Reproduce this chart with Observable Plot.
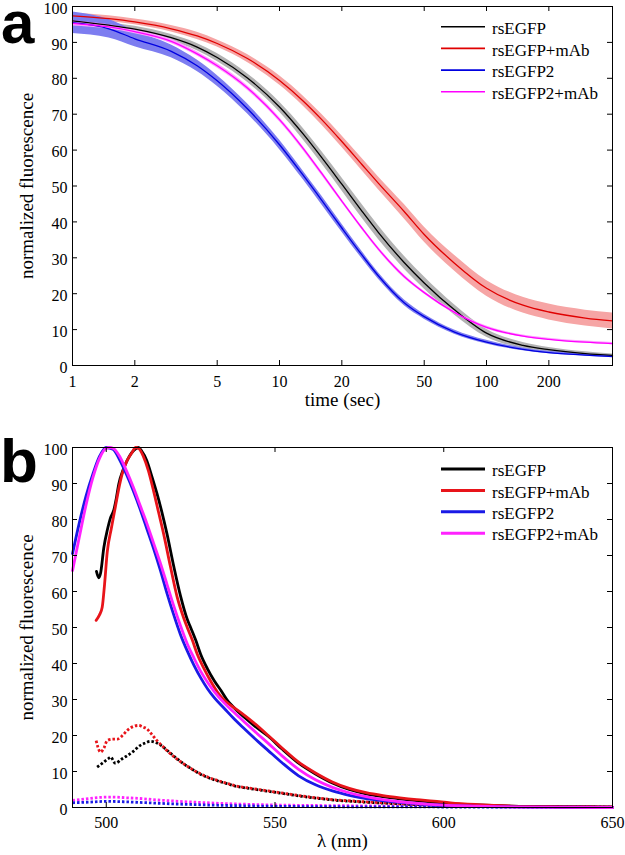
<!DOCTYPE html>
<html><head><meta charset="utf-8">
<script src="https://cdn.jsdelivr.net/npm/d3@7"></script>
<script src="https://cdn.jsdelivr.net/npm/@observablehq/plot@0.6"></script>
<style>
body{margin:0;background:#fff;}
#root{position:relative;width:625px;height:855px;overflow:hidden;background:#fff;}
#root > svg, #root > figure{position:absolute;left:0;margin:0;}
</style></head><body><div id="root"></div>
<script>
// ---------- DATA ----------
const seriesNames = ["rsEGFP", "rsEGFP+mAb", "rsEGFP2", "rsEGFP2+mAb"];

// panel a: switching-off kinetics (time in s, normalized fluorescence, mean and half-width of band)
const time = [1, 1.5, 2, 3, 4, 5, 7, 10, 13, 16, 20, 25, 30, 40, 50, 70, 100, 150, 200, 300, 406];
const rsEGFP_mean     = [96, 94.8, 93.7, 91.3, 88.7, 85.8, 80.1, 72, 64.5, 57.9, 50.5, 43, 37.1, 28.7, 23, 15.5, 9, 5.6, 4.4, 3.3, 2.8];
const rsEGFP_err      = [0.6, 0.7, 0.8, 0.9, 1, 1.1, 1.2, 1.4, 1.6, 1.7, 1.8, 1.9, 1.9, 1.8, 1.7, 1.4, 1.1, 0.8, 0.6, 0.5, 0.4];
const rsEGFPmAb_mean  = [97.4, 96.6, 95.7, 93.8, 91.8, 89.7, 85.5, 79.4, 73.7, 68.5, 62.4, 56, 50.8, 42.9, 36.5, 28.5, 21.5, 16.8, 14.9, 13.2, 12.4];
const rsEGFPmAb_err   = [0.8, 0.8, 0.8, 0.9, 1, 1, 1.1, 1.3, 1.4, 1.5, 1.6, 1.7, 1.8, 2, 2.1, 2.2, 2.2, 2.2, 2.2, 2.2, 2.2];
const rsEGFP2_mean    = [95.5, 93.8, 91, 87.5, 83.5, 79.3, 71.5, 61.5, 53, 46, 38.3, 30.8, 25, 17.5, 13.6, 9.3, 6.5, 4.5, 3.6, 2.9, 2.5];
const rsEGFP2_err     = [3, 2.6, 2.2, 1.8, 1.6, 1.5, 1.4, 1.3, 1.2, 1.2, 1.1, 1, 0.9, 0.8, 0.7, 0.6, 0.5, 0.4, 0.35, 0.3, 0.3];
const rsEGFP2mAb_mean = [95.3, 94.3, 93, 90.3, 86.8, 83.5, 77.3, 68.5, 60.5, 53.5, 45.8, 38.3, 32.5, 24.8, 20.3, 14.8, 10.6, 8.2, 7.3, 6.5, 6.1];
const rsEGFP2mAb_err  = [0.7, 0.6, 0.6, 0.6, 0.6, 0.6, 0.6, 0.6, 0.6, 0.6, 0.5, 0.5, 0.5, 0.5, 0.4, 0.4, 0.4, 0.3, 0.3, 0.3, 0.3];
const xTicksA = [1, 2, 5, 10, 20, 50, 100, 200];
const yTicksA = [0, 10, 20, 30, 40, 50, 60, 70, 80, 90, 100];

// panel b: emission spectra [wavelength nm, normalized fluorescence]; solid = on-state, dotted = off-state
const rsEGFP_on = [[497.1,65.6],[497.8,63.8],[498.3,65],[499.3,72.3],[500.3,77],[501.3,80.6],[502.2,82.5],[503,86],[503.7,89.8],[505,93.8],[506.2,96.4],[507.5,98.5],[508.7,99.6],[509.5,100],[510.5,99],[512,96.4],[513.5,92],[515,87.3],[516.5,82],[518,76],[520,67],[522,58.8],[524,52.3],[525,50],[526.5,46.5],[528,42.5],[530,38.5],[532,35.2],[534,32.5],[536,29.6],[538,27.6],[541,25],[544,22.6],[548,19.8],[552,16.3],[557,12.3],[562,9.3],[567,6.8],[572,5],[577,3.8],[582,3],[587,2.4],[592,1.9],[597,1.5],[602,1.1],[610,0.7],[620,0.4],[635,0.2],[650,0.1]];
const rsEGFPmAb_on = [[497,52],[498,53.5],[498.8,55.6],[499.5,62],[500.3,71],[501.5,77.5],[502.7,83.5],[503.7,88.5],[504.7,92.6],[506,96],[507.7,98.7],[508.7,100],[509.7,99.7],[511,97.5],[512.5,93.5],[514,88],[515.5,82],[517,76],[519,67],[521,58.5],[523,52.5],[524,50],[525.5,46.5],[527,42.5],[529,38.5],[531,35],[533,32],[535,29.8],[537,28.3],[540,26.3],[544,23.3],[548,20],[552,16.6],[557,12.6],[562,9.6],[567,7.1],[572,5.3],[577,4.1],[582,3.3],[587,2.7],[592,2.2],[597,1.8],[602,1.3],[610,0.8],[620,0.4],[635,0.2],[650,0.1]];
const rsEGFP2_on = [[490,70.5],[492,79],[494,86.5],[496,92.5],[498,97.5],[500,100],[502,99.5],[504,96.5],[506,92.5],[508,88],[510,83],[512,77.5],[514,72],[516,66],[518,59.5],[520,53.5],[522,48],[524,43.5],[526,39.5],[528,36],[530,33],[532,30.5],[535,27.5],[538,24.5],[541,21.8],[545,18.3],[548,15.8],[552,12.5],[557,8.8],[562,6.3],[567,4.6],[572,3.4],[577,2.5],[582,1.9],[587,1.4],[597,0.7],[610,0.3],[625,0.1],[650,0]];
const rsEGFP2mAb_on = [[490,65.8],[492,75],[494,84],[496,91.5],[498,97],[500,99.8],[501,100],[502,99.8],[504,97.5],[506,93.5],[508,89],[510,84],[512,79],[514,73.5],[516,68],[518,62],[520,56],[522,50.5],[524,45.5],[526,41.5],[528,37.8],[530,34.8],[532,32.2],[535,29],[538,26.3],[541,23.7],[545,20.3],[548,17.8],[552,14.4],[557,10.6],[562,7.7],[567,5.6],[572,4.1],[577,3],[582,2.2],[587,1.6],[597,0.8],[610,0.4],[625,0.1],[650,0]];
const rsEGFP_off = [[497.3,11.2],[499,12.4],[500.5,13.5],[501.3,14],[502.7,12.3],[504.5,13.4],[506.2,14.4],[508,15.6],[510,17.2],[511.5,17.9],[513.1,18.4],[514.5,18.1],[516,17.4],[518,15.9],[520.5,13.9],[523,12.1],[525.5,10.6],[528,9.2],[530.5,8.2],[533,7.4],[535.5,6.7],[538,6],[543,5.2],[548,4.5],[553,3.8],[558,3.1],[563,2.5],[568,2],[573,1.7],[578,1.4],[585,1.1],[592,0.8],[600,0.6],[610,0.4],[620,0.3],[635,0.2],[650,0.1]];
const rsEGFPmAb_off = [[497,18.6],[498.3,15.4],[499.3,16.5],[500.3,18.6],[502,19],[503.2,19],[505,20.2],[506.2,21.4],[508,22.5],[509.6,22.8],[511,22.3],[512,21.9],[513.5,20.3],[515,18.6],[516.5,17.2],[518,15.8],[520.5,13.8],[523,12.1],[525.5,10.6],[528,9.3],[530.5,8.3],[533,7.5],[535.5,6.8],[538,6.1],[543,5.3],[548,4.6],[553,3.9],[558,3.2],[563,2.6],[568,2.1],[573,1.8],[578,1.5],[585,1.2],[592,0.9],[600,0.7],[610,0.4],[620,0.3],[635,0.2],[650,0.1]];
const rsEGFP2_off = [[490,1.3],[495,1.5],[500,1.7],[505,1.6],[510,1.4],[520,1],[530,0.7],[545,0.4],[570,0.2],[650,0.1]];
const rsEGFP2mAb_off = [[490,2],[494,2.4],[498,2.8],[502,2.9],[506,2.7],[510,2.5],[515,2.1],[520,1.8],[528,1.4],[538,1],[550,0.7],[570,0.5],[600,0.3],[650,0.2]];
const xTicksB = [500, 550, 600, 650];
const yTicksB = [0, 10, 20, 30, 40, 50, 60, 70, 80, 90, 100];

// ---------- STYLE ----------
const serif = "Liberation Serif, Times New Roman, DejaVu Serif, serif";
const lineColA = ["#000000", "#e00000", "#0000e0", "#ff00ff"];
const bandColA = ["#b3b3b3", "#f6a5a5", "#7d7df0", "#ff9dff"];
const lineColB = ["#000000", "#e8141a", "#1a1ae6", "#ff22ff"];

const root = document.getElementById("root");

// ---------- PANEL A ----------
const meansA = [rsEGFP_mean, rsEGFPmAb_mean, rsEGFP2_mean, rsEGFP2mAb_mean];
const errsA = [rsEGFP_err, rsEGFPmAb_err, rsEGFP2_err, rsEGFP2mAb_err];
const rowsA = seriesNames.map((name, s) => time.map((t, i) => ({
  name, t, m: meansA[s][i], lo: meansA[s][i] - errsA[s][i], hi: meansA[s][i] + errsA[s][i]
})));

const hA = 410, mTA = 6, mBA = 45, mL = 72, mR = 13;
const innerHA = hA - mTA - mBA, innerW = 625 - mL - mR;

function boxTicks(xt, yt, innerH) {
  return [
    Plot.tickX(xt, {x: d => d, insetTop: innerH - 5, stroke: "#000", strokeWidth: 1}),
    Plot.tickX(xt, {x: d => d, insetBottom: innerH - 5, stroke: "#000", strokeWidth: 1}),
    Plot.tickY(yt, {y: d => d, insetRight: innerW - 5, stroke: "#000", strokeWidth: 1}),
    Plot.tickY(yt, {y: d => d, insetLeft: innerW - 5, stroke: "#000", strokeWidth: 1})
  ];
}
function tickLabels(xt, yt, dyX) {
  return [
    Plot.text(xt, {x: d => d, text: d => String(d), frameAnchor: "bottom", dy: dyX, fontSize: 16, fontFamily: serif, textAnchor: "middle", lineAnchor: "middle"}),
    Plot.text(yt, {y: d => d, text: d => String(d), frameAnchor: "left", dx: -5, dy: 2, fontSize: 16, fontFamily: serif, textAnchor: "end", lineAnchor: "middle"})
  ];
}

const plotA = Plot.plot({
  width: 625, height: hA,
  marginLeft: mL, marginRight: mR, marginTop: mTA, marginBottom: mBA,
  style: {fontFamily: serif, fontSize: "16px", color: "#000", background: "transparent", overflow: "visible"},
  x: {type: "log", domain: [1, 406], axis: null},
  y: {domain: [0, 100], axis: null},
  marks: [
    ...rowsA.map((r, s) => Plot.areaY(r, {x: "t", y1: "lo", y2: "hi", fill: bandColA[s], curve: "monotone-x"})),
    ...rowsA.map((r, s) => Plot.lineY(r, {x: "t", y: "m", stroke: lineColA[s], strokeWidth: 1.3, curve: "monotone-x"})),
    Plot.frame({stroke: "#000", strokeWidth: 1}),
    ...boxTicks(xTicksA, yTicksA, innerHA),
    ...tickLabels(xTicksA, yTicksA, 16),
    Plot.text(["normalized fluorescence"], {frameAnchor: "left", rotate: -90, dx: -46, fontSize: 19, fontFamily: serif, textAnchor: "middle", lineAnchor: "middle"}),
    Plot.text(["time (sec)"], {frameAnchor: "bottom", dy: 34, fontSize: 19, fontFamily: serif, textAnchor: "middle", lineAnchor: "middle"})
  ]
});
plotA.style.top = "0px";
root.appendChild(plotA);

// ---------- PANEL B ----------
const onB = [rsEGFP_on, rsEGFPmAb_on, rsEGFP2_on, rsEGFP2mAb_on];
const offB = [rsEGFP_off, rsEGFPmAb_off, rsEGFP2_off, rsEGFP2mAb_off];
const hB = 435, mTB = 27, mBB = 48;
const innerHB = hB - mTB - mBB;
const offOrder = [3, 2, 0, 1];

const plotB = Plot.plot({
  width: 625, height: hB,
  marginLeft: mL, marginRight: mR, marginTop: mTB, marginBottom: mBB,
  style: {fontFamily: serif, fontSize: "16px", color: "#000", background: "transparent", overflow: "visible"},
  x: {domain: [490, 650], axis: null},
  y: {domain: [0, 100], axis: null},
  marks: [
    ...offOrder.map(s => Plot.line(offB[s], {x: d => d[0], y: d => d[1], stroke: lineColB[s], strokeWidth: 2.8, strokeDasharray: "2.5,2", strokeLinecap: "butt", strokeLinejoin: "miter", curve: "monotone-x"})),
    ...[0, 1, 2, 3].map(s => Plot.line(onB[s], {x: d => d[0], y: d => d[1], stroke: lineColB[s], strokeWidth: 2.8, curve: "monotone-x"})),
    Plot.frame({stroke: "#000", strokeWidth: 1}),
    ...boxTicks(xTicksB, yTicksB, innerHB),
    ...tickLabels(xTicksB, yTicksB, 15),
    Plot.text(["normalized fluorescence"], {frameAnchor: "left", rotate: -90, dx: -46, fontSize: 19, fontFamily: serif, textAnchor: "middle", lineAnchor: "middle"}),
    Plot.text(["λ (nm)"], {frameAnchor: "bottom", dy: 33, fontSize: 19, fontFamily: serif, textAnchor: "middle", lineAnchor: "middle"})
  ]
});
plotB.style.top = "420px";
root.appendChild(plotB);

// ---------- OVERLAY: panel letters and legends ----------
const NS = "http://www.w3.org/2000/svg";
const ov = document.createElementNS(NS, "svg");
ov.setAttribute("width", 625); ov.setAttribute("height", 855);
ov.style.position = "absolute"; ov.style.left = "0"; ov.style.top = "0"; ov.style.pointerEvents = "none";
root.appendChild(ov);
function el(tag, attrs, text) {
  const e = document.createElementNS(NS, tag);
  for (const k in attrs) e.setAttribute(k, attrs[k]);
  if (text != null) e.textContent = text;
  ov.appendChild(e);
  return e;
}
const tagFont = "Liberation Sans, Arial, sans-serif";
el("text", {x: 1, y: 43, "font-family": tagFont, "font-weight": "bold", "font-size": 60, fill: "#000"}, "a");
el("text", {x: 0, y: 482, "font-family": tagFont, "font-weight": "bold", "font-size": 62, fill: "#000"}, "b");

function legend(top, step, colors, sw) {
  seriesNames.forEach((name, i) => {
    const y = top + i * step;
    el("line", {x1: 441, x2: 485, y1: y, y2: y, stroke: colors[i], "stroke-width": sw});
    el("text", {x: 492, y: y + 7.2, "font-family": serif, "font-size": 17, fill: "#000"}, name);
  });
}
legend(26.7, 21.7, lineColA, 1.6);
legend(469, 21.4, lineColB, 3);
</script></body></html>
